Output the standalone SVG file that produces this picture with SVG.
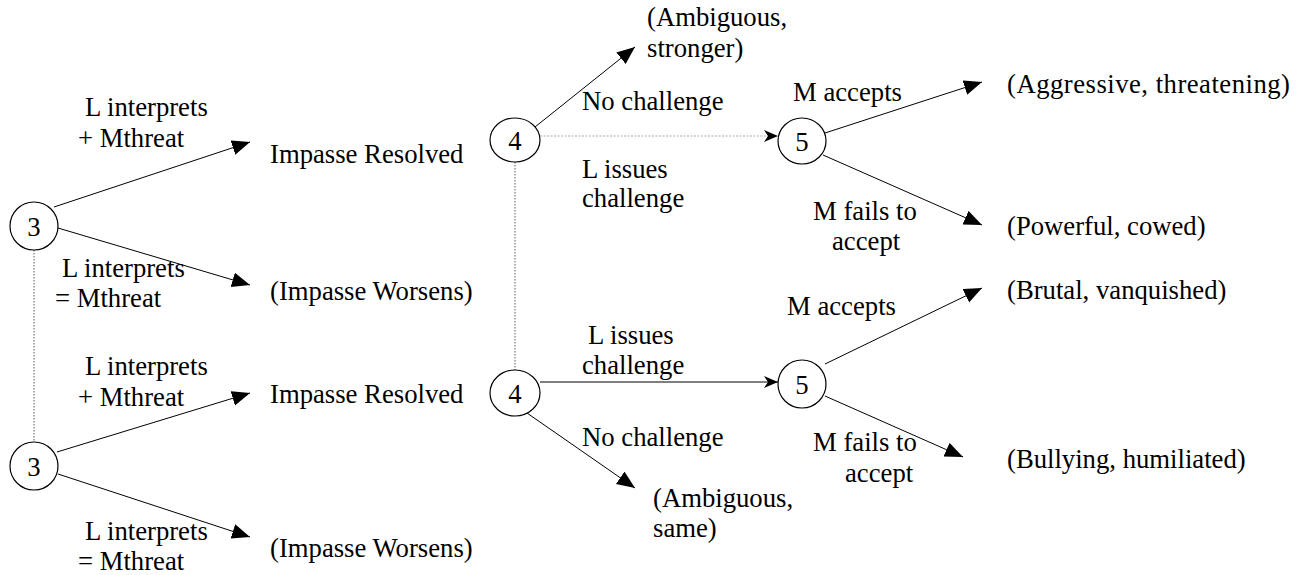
<svg xmlns="http://www.w3.org/2000/svg" width="1298" height="575" viewBox="0 0 1298 575">
<style>
text{font-family:'Times New Roman',Times,'Liberation Serif',serif;font-size:26.7px;fill:#000}
.n{text-anchor:middle;dominant-baseline:central}
.node{fill:#fff;stroke:#000;stroke-width:1.2}
.e{stroke:#000;stroke-width:1;fill:none}
.d{stroke:#777;stroke-width:1.2;stroke-dasharray:1.5 1.5;fill:none}
.dl{stroke:#aaa;stroke-width:1.2;stroke-dasharray:2 1.5;fill:none}
</style>
<defs>
<marker id="a" markerUnits="userSpaceOnUse" markerWidth="20" markerHeight="16" refX="18" refY="7.5" orient="auto"><path d="M0,0 L18,7.5 L0,15 z" fill="#000"/></marker>
<marker id="b" markerUnits="userSpaceOnUse" markerWidth="16" markerHeight="14" refX="14" refY="6" orient="auto"><path d="M0,0 L14,6 L0,12 L4,6 z" fill="#000"/></marker>
</defs>
<g id="connectors">
<line class="d" x1="34" y1="250" x2="34" y2="442"/>
<line class="d" x1="515" y1="162" x2="515" y2="370"/>
<line class="e" x1="54" y1="207" x2="250" y2="142" marker-end="url(#a)"/>
<line class="e" x1="58" y1="228" x2="250" y2="285" marker-end="url(#a)"/>
<line class="e" x1="57" y1="452" x2="250" y2="393" marker-end="url(#a)"/>
<line class="e" x1="58" y1="474" x2="250" y2="537" marker-end="url(#a)"/>
<line class="e" x1="535" y1="127" x2="635" y2="47" marker-end="url(#a)"/>
<line class="dl" x1="540" y1="136" x2="778" y2="136" marker-end="url(#b)"/>
<line class="e" x1="540" y1="382" x2="778" y2="382" marker-end="url(#b)"/>
<line class="e" x1="527" y1="413" x2="635" y2="488" marker-end="url(#a)"/>
<line class="e" x1="825" y1="133" x2="982" y2="82" marker-end="url(#a)"/>
<line class="e" x1="823" y1="155" x2="982" y2="225" marker-end="url(#a)"/>
<line class="e" x1="825" y1="364" x2="982" y2="288" marker-end="url(#a)"/>
<line class="e" x1="825" y1="396" x2="963" y2="457" marker-end="url(#a)"/>
</g>
<g id="labels">
<text x="85" y="116">L interprets</text>
<text x="78" y="147">+ Mthreat</text>
<text x="62" y="277">L interprets</text>
<text x="55" y="307">= Mthreat</text>
<text x="85" y="375">L interprets</text>
<text x="78" y="406">+ Mthreat</text>
<text x="85" y="540">L interprets</text>
<text x="78" y="570">= Mthreat</text>
<text x="582" y="110">No challenge</text>
<text x="582" y="178">L issues</text>
<text x="582" y="207">challenge</text>
<text x="588" y="344">L issues</text>
<text x="582" y="374">challenge</text>
<text x="582" y="446">No challenge</text>
<text x="793" y="101">M accepts</text>
<text x="813" y="220">M fails to</text>
<text x="832" y="250">accept</text>
<text x="787" y="315">M accepts</text>
<text x="813" y="451">M fails to</text>
<text x="845" y="482">accept</text>
</g>
<g id="outcomes">
<text x="270" y="163">Impasse Resolved</text>
<text x="270" y="300">(Impasse Worsens)</text>
<text x="270" y="403">Impasse Resolved</text>
<text x="270" y="557">(Impasse Worsens)</text>
<text x="647" y="26">(Ambiguous,</text>
<text x="647" y="57">stronger)</text>
<text x="653" y="507">(Ambiguous,</text>
<text x="653" y="537">same)</text>
<text x="1007" y="93" textLength="283">(Aggressive, threatening)</text>
<text x="1007" y="235">(Powerful, cowed)</text>
<text x="1007" y="299">(Brutal, vanquished)</text>
<text x="1007" y="468">(Bullying, humiliated)</text>
</g>
<g id="node-3a"><circle class="node" cx="34" cy="226" r="24"/><text class="n" x="34" y="227">3</text></g>
<g id="node-3b"><circle class="node" cx="34" cy="466" r="24"/><text class="n" x="34" y="467">3</text></g>
<g id="node-4a"><ellipse class="node" cx="515" cy="140" rx="25" ry="22"/><text class="n" x="515" y="141">4</text></g>
<g id="node-4b"><ellipse class="node" cx="515" cy="393" rx="25" ry="23"/><text class="n" x="515" y="394">4</text></g>
<g id="node-5a"><ellipse class="node" cx="802" cy="141" rx="24" ry="23"/><text class="n" x="802" y="142">5</text></g>
<g id="node-5b"><ellipse class="node" cx="802" cy="384" rx="24" ry="24"/><text class="n" x="802" y="385">5</text></g>
</svg>
